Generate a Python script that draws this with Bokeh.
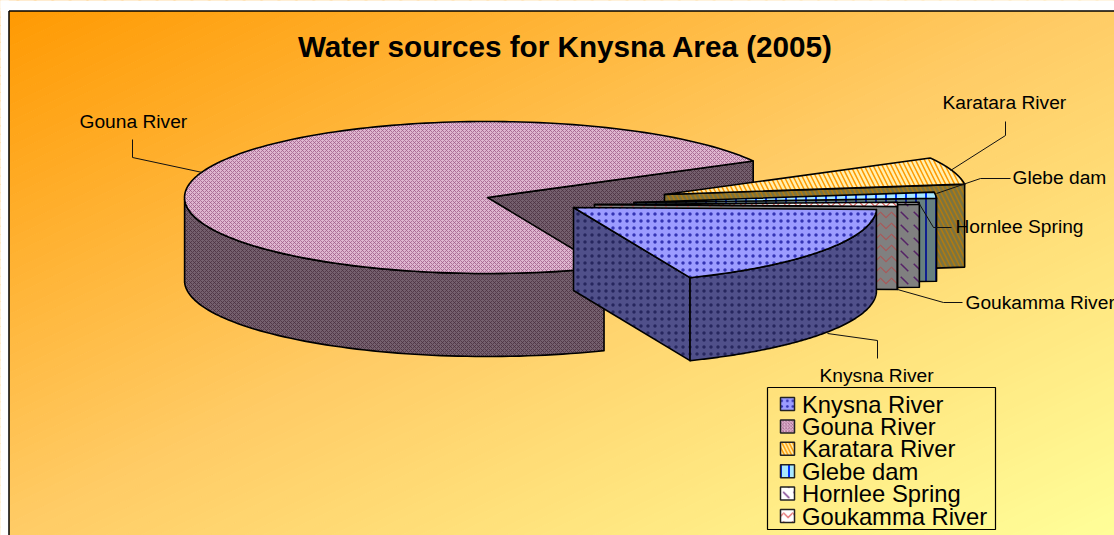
import numpy as np
from bokeh.plotting import figure
from bokeh.embed import file_html
from bokeh.resources import INLINE
from bokeh.core.properties import value

title_text = "Water sources for Knysna Area (2005)"
sources = ["Knysna River", "Gouna River", "Karatara River", "Glebe dam", "Hornlee Spring", "Goukamma River"]
shares = [18.3, 73.3, 5.8, 1.3, 0.4, 0.9]

# layout (page pixels)
W, H = 1114, 535
first_angle = -1.5
RX, RY, DEPTH = 303, 76, 83
centers = {"Knysna River": (573, 207), "Gouna River": (487, 197), "Karatara River": (664, 194),
           "Glebe dam": (633.5, 202), "Hornlee Spring": (616, 206), "Goukamma River": (594, 204)}
styles = {
    "Knysna River":   dict(top="#9C9CFF", wall="#50508A", hc="#3434B4", hw="#26265E", pat="dot", scale=7, weight=0.6),
    "Gouna River":    dict(top="#E0B6D0", wall="#75606E", hc="#A0608A", hw="#4A3040", pat="diagonal_cross", scale=4, weight=0.8),
    "Karatara River": dict(top="#FFF0B0", wall="#7C7440", hc="#FF9900", hw="#B07A10", pat="left_diagonal_line", scale=9, weight=1.5),
    "Glebe dam":      dict(top="#A8E8FF", wall="#668080", hc="#0033FF", hw="#102090", pat="vertical_line", scale=10, weight=2),
    "Hornlee Spring": dict(top="#FFFFFF", wall="#808080", hc="#7A3C8C", hw="#552266", pat="left_diagonal_dash", scale=13, weight=1.5),
    "Goukamma River": dict(top="#FFFFFF", wall="#808080", hc="#E06060", hw="#A85858", pat="horizontal_wave", scale=11, weight=1.2),
}
leaders = {
    "Gouna River": ([132, 132, 202], [139, 157, 172]),
    "Karatara River": ([1005, 1005, 950], [121, 135, 170]),
    "Glebe dam": ([1010, 980, 936], [178, 178, 193]),
    "Hornlee Spring": ([951, 933, 918], [227, 227, 202]),
    "Goukamma River": ([962, 943, 897], [302, 302, 289]),
    "Knysna River": ([877, 877, 827], [358, 340, 333]),
}
labels = {
    "Gouna River": (79, 120.5), "Karatara River": (942, 101.5), "Glebe dam": (1012, 176.5),
    "Hornlee Spring": (955, 225.5), "Goukamma River": (965, 301.5), "Knysna River": (819, 374.5),
}
stops_t = [0.0, 0.5, 1.0]
stops_g = [153, 204, 255]
stops_b = [0, 102, 153]

p = figure(width=W, height=H, x_range=(0, W), y_range=(H, 0), output_backend="svg",
           toolbar_location=None, min_border=0, background_fill_color="white", border_fill_color="white")
p.axis.visible = False
p.grid.visible = False
p.outline_line_color = None

# diagonal gradient background, built from thin bands
BANDS = 128
for i in range(BANDS):
    t0, t1 = i / BANDS, (i + 1) / BANDS
    tm = (t0 + t1) / 2
    col = "#%02x%02x%02x" % (255, int(np.interp(tm, stops_t, stops_g)), int(np.interp(tm, stops_t, stops_b)))
    y0, y1 = -H, 2 * H
    xs = [W * (2 * t0 - y0 / H), W * (2 * t1 - y0 / H), W * (2 * t1 - y1 / H), W * (2 * t0 - y1 / H)]
    p.patch(xs, [y0, y0, y1, y1], fill_color=col, line_color=col, line_width=1)
p.quad(left=[0], right=[W], top=[0], bottom=[10], fill_color="white", line_color="white")
p.quad(left=[0], right=[8], top=[0], bottom=[H], fill_color="white", line_color="white")
p.line([8.5, 8.5], [H, 10.5], line_color="black", line_width=1.5)
p.line([8.5, W], [10.5, 10.5], line_color="black", line_width=1.5)


def face(xs, ys, color, hatch, st):
    p.patch(xs, ys, fill_color=color, line_color="black", line_width=1.6, line_join="round",
            hatch_pattern=st["pat"], hatch_color=hatch, hatch_scale=st["scale"], hatch_weight=st["weight"])


# angles, clockwise from the first slice
spans = {}
ang = first_angle
tot = sum(shares)
for n, v in zip(sources, shares):
    d = v / tot * 360
    spans[n] = (ang - d, ang)
    ang -= d

# painter's order: far slices first
for n in ["Gouna River", "Karatara River", "Glebe dam", "Hornlee Spring", "Goukamma River", "Knysna River"]:
    st = styles[n]
    a, b = spans[n]
    cx, cy = centers[n]
    th = np.radians(np.linspace(a, b, 160))
    ax = cx + RX * np.cos(th)
    ay = cy - RY * np.sin(th)
    rx, ry = ax[0], ay[0]
    face([cx, rx, rx, cx], [cy, ry, ry + DEPTH, cy + DEPTH], st["wall"], st["hw"], st)
    m = np.sin(th) <= 0
    if m.sum() > 1:
        face(np.r_[ax[m], ax[m][::-1]], np.r_[ay[m], ay[m][::-1] + DEPTH], st["wall"], st["hw"], st)
    face(np.r_[cx, ax], np.r_[cy, ay], st["top"], st["hc"], st)

# leaders and labels
for n in sources:
    lx, ly = leaders[n]
    p.line(lx, ly, line_color="#111111", line_width=1)
    tx, ty = labels[n]
    p.text([tx], [ty], text=[n], text_font=value("Liberation Sans"), text_font_size="19.2px",
           text_baseline="middle", text_color="black")

p.text([565], [45.5], text=[title_text], text_font=value("Liberation Sans"), text_font_size="29.7px",
       text_font_style="bold", text_align="center", text_baseline="middle", text_color="black")

# legend
p.line([767, 995, 995, 767, 767], [387, 387, 529, 529, 387], line_color="black", line_width=1.2)
for i, n in enumerate(sources):
    st = styles[n]
    y = 403.5 + i * 22.4
    p.quad(left=[780], right=[794], top=[y - 6.5], bottom=[y + 6.5], fill_color=st["top"], line_color="#222222",
           line_width=1.5, hatch_pattern=st["pat"], hatch_color=st["hc"], hatch_scale=st["scale"] * 0.8, hatch_weight=st["weight"])
    p.text([801.5], [y], text=[n], text_font=value("Liberation Sans"), text_font_size="23.8px",
           text_baseline="middle", text_color="black")

open("out.html", "w").write(file_html(p, INLINE))
